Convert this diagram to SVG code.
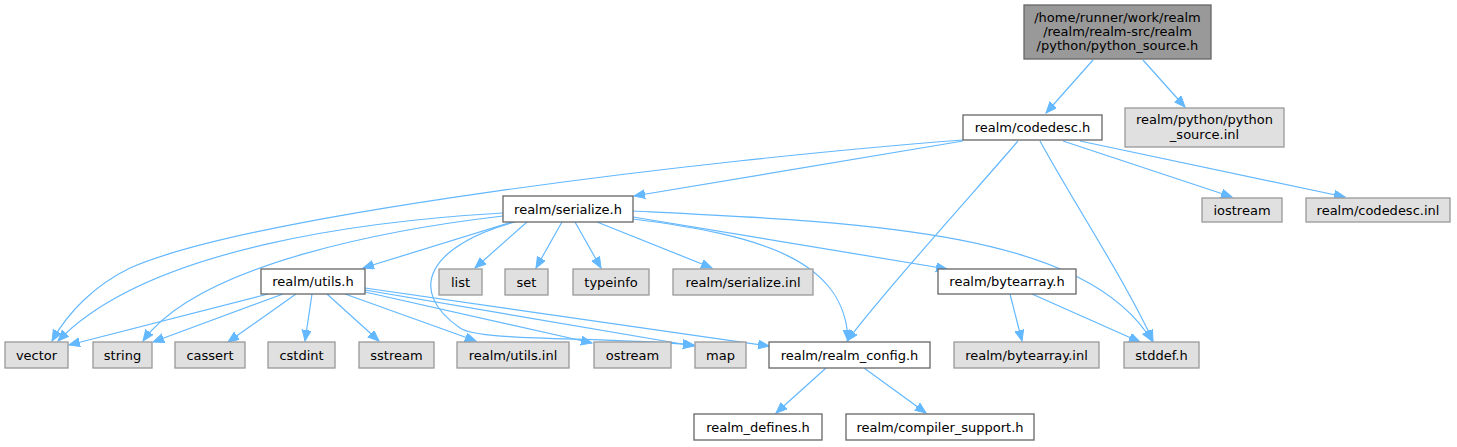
<svg xmlns="http://www.w3.org/2000/svg" width="1457" height="447" viewBox="0 0 1457 447">
<style>
text{font-family:"DejaVu Sans",sans-serif;font-size:13px;fill:#000;text-anchor:middle}
.w{fill:#fff;stroke:#666;stroke-width:1.3}
.g{fill:#e0e0e0;stroke:#999;stroke-width:1.3}
.t{fill:#999;stroke:#666;stroke-width:1.3}
.e path{fill:none;stroke:#63b8ff;stroke-width:1.2;marker-end:url(#a)}
</style>
<defs>
<marker id="a" markerUnits="userSpaceOnUse" markerWidth="12" markerHeight="10" refX="11" refY="4.5" orient="auto">
<path d="M0,0 L11,4.5 L0,9 z" fill="#63b8ff" stroke="#63b8ff" stroke-width="1"/>
</marker>
</defs>
<g class="e" id="edges">
<path d="M1093,60 L1046,113"/>
<path d="M1143,60 L1185,107"/>
<path d="M963,140 C700,160 250,215 130,268 C95,285 68,312 52,341"/>
<path d="M963,141 L634,196"/>
<path d="M1018,141 C985,180 885,290 847,341"/>
<path d="M1040,141 C1075,205 1125,280 1153,341"/>
<path d="M1063,141 L1232,197"/>
<path d="M1080,141 L1345,197"/>
<path d="M503,213 C380,220 150,245 58,341"/>
<path d="M503,216 C400,228 200,262 143,341"/>
<path d="M512,222 L363,268"/>
<path d="M527,222 L475,268"/>
<path d="M562,222 L536,268"/>
<path d="M575,222 L601,268"/>
<path d="M597,222 L712,268"/>
<path d="M633,217 L947,269"/>
<path d="M633,219 C760,235 846,260 848,341"/>
<path d="M633,211 C860,222 1085,230 1152,341"/>
<path d="M515,222 C430,245 405,290 460,328 C480,342 600,336 694,345"/>
<path d="M268,294 L69,345"/>
<path d="M283,294 L153,342"/>
<path d="M296,294 L228,342"/>
<path d="M312,294 L305,341"/>
<path d="M327,294 L379,341"/>
<path d="M345,294 L476,341"/>
<path d="M365,292 L592,343"/>
<path d="M365,290 L694,346"/>
<path d="M365,288 L769,346"/>
<path d="M1010,294 L1022,341"/>
<path d="M1032,294 L1140,342"/>
<path d="M826,368 L776,413"/>
<path d="M864,368 L926,413"/>
</g>
<g id="n_python_source_h"><rect class="t" x="1024" y="5" width="187" height="54"/><text x="1117.5" y="22">/home/runner/work/realm</text><text x="1117.5" y="36">/realm/realm-src/realm</text><text x="1117.5" y="50">/python/python_source.h</text></g>
<g id="n_codedesc_h"><rect class="w" x="963" y="115" width="139" height="25"/><text x="1032.5" y="132">realm/codedesc.h</text></g>
<g id="n_python_source_inl"><rect class="g" x="1125" y="108" width="159" height="39"/><text x="1204.5" y="124">realm/python/python</text><text x="1204.5" y="139">_source.inl</text></g>
<g id="n_serialize_h"><rect class="w" x="503" y="196" width="130" height="26"/><text x="568" y="213.5">realm/serialize.h</text></g>
<g id="n_iostream"><rect class="g" x="1202" y="198" width="80" height="24"/><text x="1242" y="214.5">iostream</text></g>
<g id="n_codedesc_inl"><rect class="g" x="1306" y="198" width="144" height="24"/><text x="1378" y="214.5">realm/codedesc.inl</text></g>
<g id="n_utils_h"><rect class="w" x="261" y="269" width="104" height="25"/><text x="313" y="286">realm/utils.h</text></g>
<g id="n_list"><rect class="g" x="439" y="269" width="43" height="26"/><text x="460.5" y="286.5">list</text></g>
<g id="n_set"><rect class="g" x="505" y="269" width="43" height="26"/><text x="526.5" y="286.5">set</text></g>
<g id="n_typeinfo"><rect class="g" x="573" y="269" width="76" height="26"/><text x="611" y="286.5">typeinfo</text></g>
<g id="n_serialize_inl"><rect class="g" x="673" y="269" width="140" height="26"/><text x="743" y="286.5">realm/serialize.inl</text></g>
<g id="n_bytearray_h"><rect class="w" x="938" y="269" width="138" height="25"/><text x="1007" y="286">realm/bytearray.h</text></g>
<g id="n_vector"><rect class="g" x="5" y="342" width="63" height="26"/><text x="36.5" y="359.5">vector</text></g>
<g id="n_string"><rect class="g" x="93" y="342" width="59" height="26"/><text x="122.5" y="359.5">string</text></g>
<g id="n_cassert"><rect class="g" x="175" y="342" width="70" height="26"/><text x="210" y="359.5">cassert</text></g>
<g id="n_cstdint"><rect class="g" x="268" y="342" width="67" height="26"/><text x="301.5" y="359.5">cstdint</text></g>
<g id="n_sstream"><rect class="g" x="359" y="342" width="75" height="26"/><text x="396.5" y="359.5">sstream</text></g>
<g id="n_utils_inl"><rect class="g" x="457" y="342" width="112" height="26"/><text x="513" y="359.5">realm/utils.inl</text></g>
<g id="n_ostream"><rect class="g" x="594" y="342" width="77" height="26"/><text x="632.5" y="359.5">ostream</text></g>
<g id="n_map"><rect class="g" x="695" y="342" width="51" height="26"/><text x="720.5" y="359.5">map</text></g>
<g id="n_realm_config_h"><rect class="w" x="769" y="342" width="161" height="26"/><text x="849.5" y="359.5">realm/realm_config.h</text></g>
<g id="n_bytearray_inl"><rect class="g" x="954" y="342" width="145" height="26"/><text x="1026.5" y="359.5">realm/bytearray.inl</text></g>
<g id="n_stddef_h"><rect class="g" x="1124" y="342" width="75" height="26"/><text x="1161.5" y="359.5">stddef.h</text></g>
<g id="n_realm_defines_h"><rect class="w" x="694" y="414" width="128" height="26"/><text x="758" y="431.5">realm_defines.h</text></g>
<g id="n_compiler_support_h"><rect class="w" x="846" y="414" width="188" height="26"/><text x="940" y="431.5">realm/compiler_support.h</text></g>
</svg>
